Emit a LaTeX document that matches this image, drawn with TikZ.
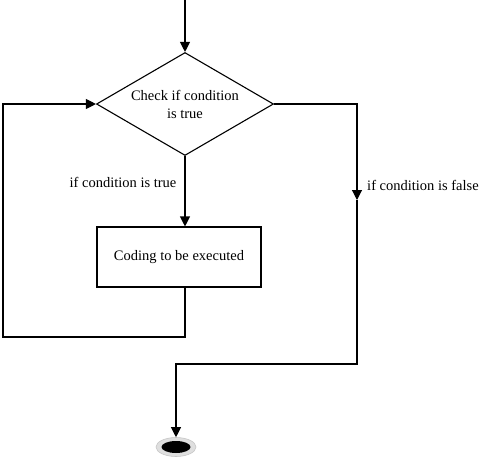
\documentclass[tikz,border=0pt]{standalone}
\usepackage{fontspec}
\setmainfont{Liberation Serif}
\usetikzlibrary{shapes.geometric,arrows.meta}

\begin{document}
\begin{tikzpicture}[x=1pt, y=-1pt, line width=1.1pt,
    >={Triangle[length=10pt,width=10pt]},
    font=\fontsize{14.5}{18}\selectfont,
    flowline/.style={draw, black}]
		\useasboundingbox (0,0) rectangle (480,464);
		\coordinate (start) at (185,0);
		\node[draw, diamond, aspect=1.72, minimum width=177, minimum height=103, inner sep=0, align=center] (check) at (185,104) {Check if condition\\ is true};
		\node[draw, minimum width=164, minimum height=60, inner sep=0] (code) at (179,257) {Coding to be executed};
		\node (truelbl) at (123,182) {if condition is true};
		\node (falselbl) at (423,185) {if condition is false};
		\node[ellipse, fill=gray!25, draw=gray!45, line width=0.6pt, minimum width=40, minimum height=19] (stop) at (176,447) {};
		\node[ellipse, fill=black, minimum width=29, minimum height=12] (stopdot) at (stop) {};
		\coordinate (loopbl) at (3,337);
		\coordinate (falsemid) at (357,200);
		\coordinate (falsebr) at (357,364);
		\draw[flowline, ->] (start) -- (check.north);
		\draw[flowline, ->] (check.south) -- (check.south |- code.north);
		\draw[flowline, ->] (check.south |- code.south) -- (check.south |- loopbl) -- (loopbl) |- (check.west);
		\draw[flowline, ->] (check.east) -| (falsemid);
		\draw[flowline, ->] (falsemid) -- (falsebr) -| (stop.north);
	\end{tikzpicture}
\end{document}
